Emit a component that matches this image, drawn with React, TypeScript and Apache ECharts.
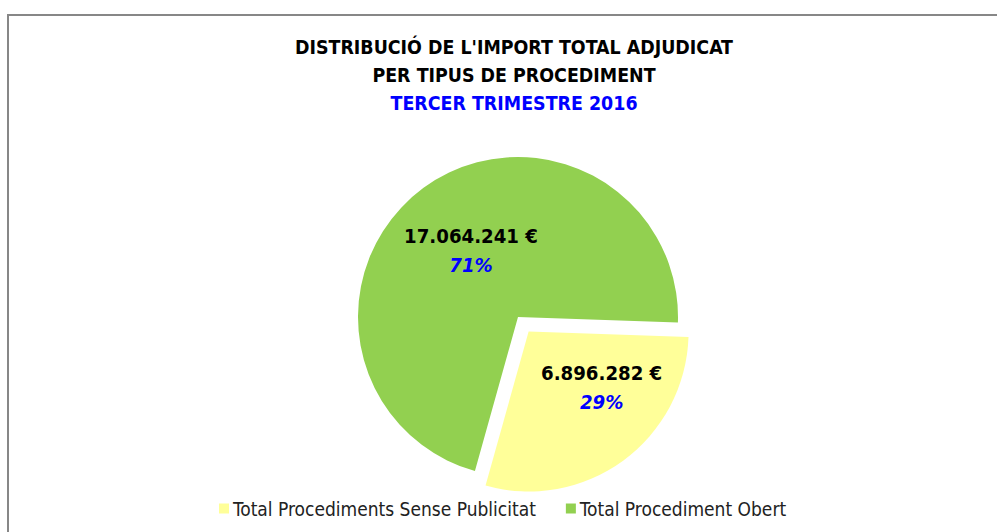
import React, { useEffect, useRef } from "react";
import * as echarts from "echarts";

const titleLines = ["DISTRIBUCIÓ DE L'IMPORT TOTAL ADJUDICAT", "PER TIPUS DE PROCEDIMENT"];
const subtitle = "TERCER TRIMESTRE 2016";
const categories = ["Total Procediments Sense Publicitat", "Total Procediment Obert"];
const values = [6896282, 17064241];
const colors = ["#FFFF99", "#92D050"];

const FONT = "'DejaVu Sans Condensed', 'Liberation Sans Narrow', sans-serif";

function fmt(v: number): string {
  return String(Math.round(v)).replace(/\B(?=(\d{3})+(?!\d))/g, ".");
}

export default function App() {
  const ref = useRef<HTMLDivElement>(null);
  useEffect(() => {
    document.body.style.margin = "0";
    const chart = echarts.init(ref.current!, null, { renderer: "svg" });
    chart.setOption({
      animation: false,
      backgroundColor: "#ffffff",
      graphic: [
        {
          type: "rect",
          shape: { x: 8, y: 15, width: 1100, height: 600 },
          style: { fill: "none", stroke: "#878787", lineWidth: 2 },
          silent: true,
        },
      ],
      title: {
        left: 509,
        top: 28,
        textAlign: "center",
        text:
          titleLines.map((l) => `{a|${l}}`).join("\n") + `\n{b|${subtitle}}`,
        textStyle: {
          rich: {
            a: { fontFamily: FONT, fontWeight: "bold", fontSize: 19.4, color: "#000", lineHeight: 28 },
            b: { fontFamily: FONT, fontWeight: "bold", fontSize: 19.4, color: "#0000FF", lineHeight: 28 },
          },
        },
      },
      legend: {
        left: 214,
        top: 494,
        icon: "rect",
        itemWidth: 10,
        itemHeight: 10,
        itemGap: 30,
        data: categories,
        textStyle: { fontFamily: FONT, fontSize: 19, color: "#222", padding: [0, 0, 0, -1] },
        selectedMode: false,
      },
      series: [
        {
          type: "pie",
          center: [518, 317],
          radius: [0, 160],
          startAngle: -2,
          clockwise: true,
          selectedMode: "single",
          selectedOffset: 18,
          labelLine: { show: false },
          label: {
            show: true,
            position: "inside",
            formatter: (p: any) => `{v|${fmt(p.value)} €}\n{p|${Math.round(p.percent)}%}`,
            rich: {
              v: { fontFamily: FONT, fontWeight: "bold", fontSize: 20.2, color: "#000", lineHeight: 29 },
              p: { fontFamily: FONT, fontWeight: "bold", fontStyle: "italic", fontSize: 20.2, color: "#0000FF", lineHeight: 29 },
            },
          },
          labelLayout: (params: any) =>
            params.dataIndex === 0 ? { dx: 24, dy: -11 } : { dx: 2, dy: 0 },
          emphasis: { disabled: true },
          data: categories.map((name, i) => ({
            name,
            value: values[i],
            selected: i === 0,
            itemStyle: { color: colors[i] },
          })),
        },
      ],
    });
    return () => chart.dispose();
  }, []);
  return <div ref={ref} style={{ width: 997, height: 532 }} />;
}
